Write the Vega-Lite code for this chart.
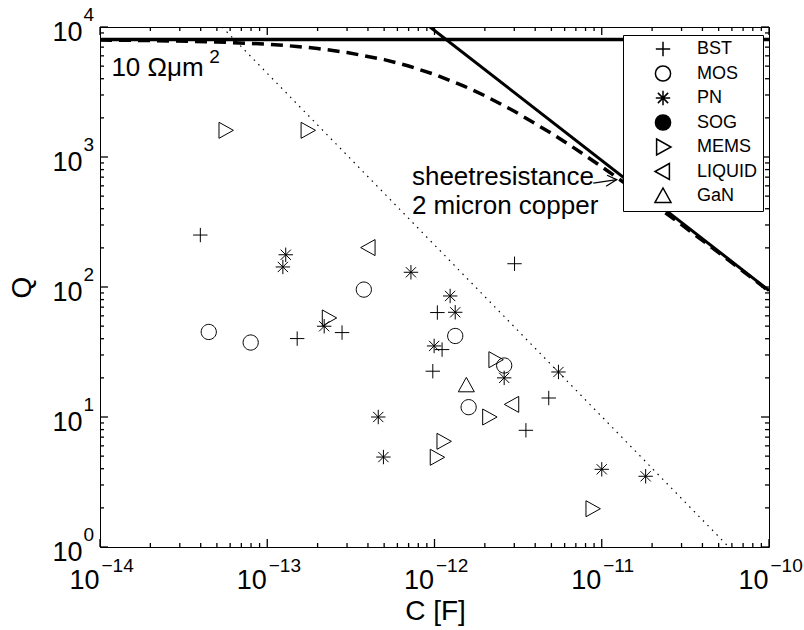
{
  "$schema": "https://vega.github.io/schema/vega-lite/v6.json",
  "width": 669,
  "height": 520,
  "autosize": {"type": "none"},
  "padding": {"left": 100, "top": 27, "right": 35, "bottom": 83},
  "background": "white",
  "config": {
    "font": "Liberation Sans",
    "view": {"stroke": "black", "strokeWidth": 1},
    "axis": {"labelColor": "black", "titleColor": "black", "grid": false, "domain": false, "ticks": false, "labelFont": "Liberation Sans", "titleFont": "Liberation Sans", "titleFontWeight": "normal", "labelFlush": false, "labelOverlap": false, "labelBound": false},
    "legend": {"orient": "none", "legendX": 523, "legendY": 8, "strokeColor": "black", "fillColor": "white", "padding": 5, "symbolOffset": 26, "labelOffset": 25, "symbolSize": 256, "labelFontSize": 18, "labelFont": "Liberation Sans", "labelColor": "black", "rowPadding": 2.5, "cornerRadius": 0}
  },
  "datasets": {
    "hline": [{"C": 1e-14, "Q": 8000}, {"C": 1e-10, "Q": 8000}],
    "diag": [{"C": 9.4e-13, "Q": 10000}, {"C": 1e-10, "Q": 94}],
    "dashed": [
      {"C": 1e-14, "Q": 7932}, {"C": 2e-14, "Q": 7866}, {"C": 5e-14, "Q": 7673}, {"C": 1e-13, "Q": 7373},
      {"C": 1.5e-13, "Q": 7094}, {"C": 2e-13, "Q": 6836}, {"C": 3e-13, "Q": 6373}, {"C": 5e-13, "Q": 5612},
      {"C": 7e-13, "Q": 5013}, {"C": 1e-12, "Q": 4322}, {"C": 1.5e-12, "Q": 3514}, {"C": 2e-12, "Q": 2961},
      {"C": 3e-12, "Q": 2251}, {"C": 5e-12, "Q": 1522}, {"C": 7e-12, "Q": 1150}, {"C": 1e-11, "Q": 841},
      {"C": 1.5e-11, "Q": 581}, {"C": 2e-11, "Q": 444}, {"C": 3e-11, "Q": 301.5}, {"C": 5e-11, "Q": 183.7},
      {"C": 7e-11, "Q": 132.1}, {"C": 1e-10, "Q": 92.9}
    ],
    "dotted": [{"C": 5.37e-14, "Q": 10000}, {"C": 5.75e-11, "Q": 1}],
    "arrow": [
      {"seg": "shaft", "i": 1, "C": 8.9e-12, "Q": 630},
      {"seg": "shaft", "i": 2, "C": 1.23e-11, "Q": 670},
      {"seg": "head", "i": 1, "C": 1.076e-11, "Q": 723},
      {"seg": "head", "i": 2, "C": 1.23e-11, "Q": 670},
      {"seg": "head", "i": 3, "C": 1.062e-11, "Q": 595}
    ],
    "annot": [
      {"C": 1.17e-14, "Q": 4178, "label": "10 Ωμm"},
      {"C": 7.33e-13, "Q": 606, "label": "sheetresistance"},
      {"C": 7.33e-13, "Q": 362, "label": "2 micron copper"}
    ],
    "sup": [{"C": 4.5e-14, "Q": 5300, "label": "2"}],
    "xticks": [
      {"C": 1e-14, "Q": 1, "Q2": 1.152}, {"C": 1e-13, "Q": 1, "Q2": 1.152}, {"C": 1e-12, "Q": 1, "Q2": 1.152}, {"C": 1e-11, "Q": 1, "Q2": 1.152}, {"C": 1e-10, "Q": 1, "Q2": 1.152},
      {"C": 1e-14, "Q": 10000, "Q2": 8681}, {"C": 1e-13, "Q": 10000, "Q2": 8681}, {"C": 1e-12, "Q": 10000, "Q2": 8681}, {"C": 1e-11, "Q": 10000, "Q2": 8681}, {"C": 1e-10, "Q": 10000, "Q2": 8681},
      {"C": 2e-14, "Q": 1, "Q2": 1.073}, {"C": 3e-14, "Q": 1, "Q2": 1.073}, {"C": 4e-14, "Q": 1, "Q2": 1.073}, {"C": 5e-14, "Q": 1, "Q2": 1.073}, {"C": 6e-14, "Q": 1, "Q2": 1.073}, {"C": 7e-14, "Q": 1, "Q2": 1.073}, {"C": 8e-14, "Q": 1, "Q2": 1.073}, {"C": 9e-14, "Q": 1, "Q2": 1.073},
      {"C": 2e-13, "Q": 1, "Q2": 1.073}, {"C": 3e-13, "Q": 1, "Q2": 1.073}, {"C": 4e-13, "Q": 1, "Q2": 1.073}, {"C": 5e-13, "Q": 1, "Q2": 1.073}, {"C": 6e-13, "Q": 1, "Q2": 1.073}, {"C": 7e-13, "Q": 1, "Q2": 1.073}, {"C": 8e-13, "Q": 1, "Q2": 1.073}, {"C": 9e-13, "Q": 1, "Q2": 1.073},
      {"C": 2e-12, "Q": 1, "Q2": 1.073}, {"C": 3e-12, "Q": 1, "Q2": 1.073}, {"C": 4e-12, "Q": 1, "Q2": 1.073}, {"C": 5e-12, "Q": 1, "Q2": 1.073}, {"C": 6e-12, "Q": 1, "Q2": 1.073}, {"C": 7e-12, "Q": 1, "Q2": 1.073}, {"C": 8e-12, "Q": 1, "Q2": 1.073}, {"C": 9e-12, "Q": 1, "Q2": 1.073},
      {"C": 2e-11, "Q": 1, "Q2": 1.073}, {"C": 3e-11, "Q": 1, "Q2": 1.073}, {"C": 4e-11, "Q": 1, "Q2": 1.073}, {"C": 5e-11, "Q": 1, "Q2": 1.073}, {"C": 6e-11, "Q": 1, "Q2": 1.073}, {"C": 7e-11, "Q": 1, "Q2": 1.073}, {"C": 8e-11, "Q": 1, "Q2": 1.073}, {"C": 9e-11, "Q": 1, "Q2": 1.073},
      {"C": 2e-14, "Q": 10000, "Q2": 9316}, {"C": 3e-14, "Q": 10000, "Q2": 9316}, {"C": 4e-14, "Q": 10000, "Q2": 9316}, {"C": 5e-14, "Q": 10000, "Q2": 9316}, {"C": 6e-14, "Q": 10000, "Q2": 9316}, {"C": 7e-14, "Q": 10000, "Q2": 9316}, {"C": 8e-14, "Q": 10000, "Q2": 9316}, {"C": 9e-14, "Q": 10000, "Q2": 9316},
      {"C": 2e-13, "Q": 10000, "Q2": 9316}, {"C": 3e-13, "Q": 10000, "Q2": 9316}, {"C": 4e-13, "Q": 10000, "Q2": 9316}, {"C": 5e-13, "Q": 10000, "Q2": 9316}, {"C": 6e-13, "Q": 10000, "Q2": 9316}, {"C": 7e-13, "Q": 10000, "Q2": 9316}, {"C": 8e-13, "Q": 10000, "Q2": 9316}, {"C": 9e-13, "Q": 10000, "Q2": 9316},
      {"C": 2e-12, "Q": 10000, "Q2": 9316}, {"C": 3e-12, "Q": 10000, "Q2": 9316}, {"C": 4e-12, "Q": 10000, "Q2": 9316}, {"C": 5e-12, "Q": 10000, "Q2": 9316}, {"C": 6e-12, "Q": 10000, "Q2": 9316}, {"C": 7e-12, "Q": 10000, "Q2": 9316}, {"C": 8e-12, "Q": 10000, "Q2": 9316}, {"C": 9e-12, "Q": 10000, "Q2": 9316},
      {"C": 2e-11, "Q": 10000, "Q2": 9316}, {"C": 3e-11, "Q": 10000, "Q2": 9316}, {"C": 4e-11, "Q": 10000, "Q2": 9316}, {"C": 5e-11, "Q": 10000, "Q2": 9316}, {"C": 6e-11, "Q": 10000, "Q2": 9316}, {"C": 7e-11, "Q": 10000, "Q2": 9316}, {"C": 8e-11, "Q": 10000, "Q2": 9316}, {"C": 9e-11, "Q": 10000, "Q2": 9316}
    ],
    "yticks": [
      {"Q": 1, "C": 1e-14, "C2": 1.116e-14}, {"Q": 10, "C": 1e-14, "C2": 1.116e-14}, {"Q": 100, "C": 1e-14, "C2": 1.116e-14}, {"Q": 1000, "C": 1e-14, "C2": 1.116e-14}, {"Q": 10000, "C": 1e-14, "C2": 1.116e-14},
      {"Q": 1, "C": 1e-10, "C2": 8.96e-11}, {"Q": 10, "C": 1e-10, "C2": 8.96e-11}, {"Q": 100, "C": 1e-10, "C2": 8.96e-11}, {"Q": 1000, "C": 1e-10, "C2": 8.96e-11}, {"Q": 10000, "C": 1e-10, "C2": 8.96e-11},
      {"Q": 2, "C": 1e-14, "C2": 1.057e-14}, {"Q": 3, "C": 1e-14, "C2": 1.057e-14}, {"Q": 4, "C": 1e-14, "C2": 1.057e-14}, {"Q": 5, "C": 1e-14, "C2": 1.057e-14}, {"Q": 6, "C": 1e-14, "C2": 1.057e-14}, {"Q": 7, "C": 1e-14, "C2": 1.057e-14}, {"Q": 8, "C": 1e-14, "C2": 1.057e-14}, {"Q": 9, "C": 1e-14, "C2": 1.057e-14},
      {"Q": 20, "C": 1e-14, "C2": 1.057e-14}, {"Q": 30, "C": 1e-14, "C2": 1.057e-14}, {"Q": 40, "C": 1e-14, "C2": 1.057e-14}, {"Q": 50, "C": 1e-14, "C2": 1.057e-14}, {"Q": 60, "C": 1e-14, "C2": 1.057e-14}, {"Q": 70, "C": 1e-14, "C2": 1.057e-14}, {"Q": 80, "C": 1e-14, "C2": 1.057e-14}, {"Q": 90, "C": 1e-14, "C2": 1.057e-14},
      {"Q": 200, "C": 1e-14, "C2": 1.057e-14}, {"Q": 300, "C": 1e-14, "C2": 1.057e-14}, {"Q": 400, "C": 1e-14, "C2": 1.057e-14}, {"Q": 500, "C": 1e-14, "C2": 1.057e-14}, {"Q": 600, "C": 1e-14, "C2": 1.057e-14}, {"Q": 700, "C": 1e-14, "C2": 1.057e-14}, {"Q": 800, "C": 1e-14, "C2": 1.057e-14}, {"Q": 900, "C": 1e-14, "C2": 1.057e-14},
      {"Q": 2000, "C": 1e-14, "C2": 1.057e-14}, {"Q": 3000, "C": 1e-14, "C2": 1.057e-14}, {"Q": 4000, "C": 1e-14, "C2": 1.057e-14}, {"Q": 5000, "C": 1e-14, "C2": 1.057e-14}, {"Q": 6000, "C": 1e-14, "C2": 1.057e-14}, {"Q": 7000, "C": 1e-14, "C2": 1.057e-14}, {"Q": 8000, "C": 1e-14, "C2": 1.057e-14}, {"Q": 9000, "C": 1e-14, "C2": 1.057e-14},
      {"Q": 2, "C": 1e-10, "C2": 9.46e-11}, {"Q": 3, "C": 1e-10, "C2": 9.46e-11}, {"Q": 4, "C": 1e-10, "C2": 9.46e-11}, {"Q": 5, "C": 1e-10, "C2": 9.46e-11}, {"Q": 6, "C": 1e-10, "C2": 9.46e-11}, {"Q": 7, "C": 1e-10, "C2": 9.46e-11}, {"Q": 8, "C": 1e-10, "C2": 9.46e-11}, {"Q": 9, "C": 1e-10, "C2": 9.46e-11},
      {"Q": 20, "C": 1e-10, "C2": 9.46e-11}, {"Q": 30, "C": 1e-10, "C2": 9.46e-11}, {"Q": 40, "C": 1e-10, "C2": 9.46e-11}, {"Q": 50, "C": 1e-10, "C2": 9.46e-11}, {"Q": 60, "C": 1e-10, "C2": 9.46e-11}, {"Q": 70, "C": 1e-10, "C2": 9.46e-11}, {"Q": 80, "C": 1e-10, "C2": 9.46e-11}, {"Q": 90, "C": 1e-10, "C2": 9.46e-11},
      {"Q": 200, "C": 1e-10, "C2": 9.46e-11}, {"Q": 300, "C": 1e-10, "C2": 9.46e-11}, {"Q": 400, "C": 1e-10, "C2": 9.46e-11}, {"Q": 500, "C": 1e-10, "C2": 9.46e-11}, {"Q": 600, "C": 1e-10, "C2": 9.46e-11}, {"Q": 700, "C": 1e-10, "C2": 9.46e-11}, {"Q": 800, "C": 1e-10, "C2": 9.46e-11}, {"Q": 900, "C": 1e-10, "C2": 9.46e-11},
      {"Q": 2000, "C": 1e-10, "C2": 9.46e-11}, {"Q": 3000, "C": 1e-10, "C2": 9.46e-11}, {"Q": 4000, "C": 1e-10, "C2": 9.46e-11}, {"Q": 5000, "C": 1e-10, "C2": 9.46e-11}, {"Q": 6000, "C": 1e-10, "C2": 9.46e-11}, {"Q": 7000, "C": 1e-10, "C2": 9.46e-11}, {"Q": 8000, "C": 1e-10, "C2": 9.46e-11}, {"Q": 9000, "C": 1e-10, "C2": 9.46e-11}
    ],
    "pts": [
      {"type": "BST", "C": 3.98e-14, "Q": 251}, {"type": "BST", "C": 1.51e-13, "Q": 40.1}, {"type": "BST", "C": 2.8e-13, "Q": 44.6},
      {"type": "BST", "C": 1.04e-12, "Q": 63.6}, {"type": "BST", "C": 9.77e-13, "Q": 22.5}, {"type": "BST", "C": 1.11e-12, "Q": 33.0},
      {"type": "BST", "C": 3.01e-12, "Q": 151}, {"type": "BST", "C": 4.82e-12, "Q": 14.0}, {"type": "BST", "C": 3.52e-12, "Q": 7.9},
      {"type": "MOS", "C": 4.47e-14, "Q": 45.1}, {"type": "MOS", "C": 7.96e-14, "Q": 37.4}, {"type": "MOS", "C": 3.78e-13, "Q": 95.5},
      {"type": "MOS", "C": 1.33e-12, "Q": 42.0}, {"type": "MOS", "C": 2.61e-12, "Q": 24.9}, {"type": "MOS", "C": 1.6e-12, "Q": 11.9},
      {"type": "PN", "C": 1.29e-13, "Q": 177}, {"type": "PN", "C": 1.24e-13, "Q": 142.6}, {"type": "PN", "C": 2.19e-13, "Q": 49.9},
      {"type": "PN", "C": 7.23e-13, "Q": 129.8}, {"type": "PN", "C": 1.24e-12, "Q": 85.3}, {"type": "PN", "C": 1.33e-12, "Q": 63.9},
      {"type": "PN", "C": 9.95e-13, "Q": 35.2}, {"type": "PN", "C": 2.61e-12, "Q": 20.0}, {"type": "PN", "C": 5.51e-12, "Q": 22.2},
      {"type": "PN", "C": 4.61e-13, "Q": 10.0}, {"type": "PN", "C": 4.95e-13, "Q": 4.92}, {"type": "PN", "C": 1.0e-11, "Q": 3.96},
      {"type": "PN", "C": 1.83e-11, "Q": 3.5},
      {"type": "MEMS", "C": 2.33e-13, "Q": 57.8}, {"type": "MEMS", "C": 2.31e-12, "Q": 27.6}, {"type": "MEMS", "C": 2.12e-12, "Q": 10.0},
      {"type": "MEMS", "C": 1.13e-12, "Q": 6.5}, {"type": "MEMS", "C": 1.03e-12, "Q": 4.9}, {"type": "MEMS", "C": 8.79e-12, "Q": 1.97},
      {"type": "MEMS", "C": 5.62e-14, "Q": 1604}, {"type": "MEMS", "C": 1.74e-13, "Q": 1604},
      {"type": "LIQUID", "C": 4.04e-13, "Q": 201}, {"type": "LIQUID", "C": 2.92e-12, "Q": 12.5},
      {"type": "GaN", "C": 1.55e-12, "Q": 17.5}
    ]
  },
  "resolve": {"axis": {"x": "independent", "y": "independent"}},
  "layer": [
    {
      "data": {"name": "hline"},
      "mark": {"type": "line", "color": "black", "strokeWidth": 3.5, "clip": true},
      "encoding": {
        "x": {"field": "C", "type": "quantitative", "scale": {"type": "log", "domain": [1e-14, 1e-10], "nice": false},
          "axis": {"orient": "bottom", "values": [1e-14, 1e-13, 1e-12, 1e-11, 1e-10], "labelExpr": "'10'", "labelFontSize": 27, "labelPadding": 41, "labelBaseline": "alphabetic", "labelAlign": "right", "labelOffset": -1,
            "title": "C [F]", "titleFontSize": 28, "titleX": 335, "titleY": 72, "titleBaseline": "alphabetic", "titleAlign": "center"}},
        "y": {"field": "Q", "type": "quantitative", "scale": {"type": "log", "domain": [1, 10000], "nice": false},
          "axis": {"orient": "left", "values": [1, 10, 100, 1000, 10000], "labelExpr": "'10'", "labelFontSize": 27, "labelPadding": 18, "labelAlign": "right", "labelBaseline": "alphabetic", "labelOffset": 13,
            "title": "Q", "titleFontSize": 28, "titleX": -78, "titleY": 260, "titleAngle": 270, "titleBaseline": "middle", "titleAlign": "center"}}
      }
    },
    {
      "data": {"name": "diag"},
      "mark": {"type": "line", "color": "black", "strokeWidth": 3, "clip": true},
      "encoding": {
        "x": {"field": "C", "type": "quantitative", "scale": {"type": "log", "domain": [1e-14, 1e-10], "nice": false},
          "axis": {"orient": "bottom", "values": [1e-14, 1e-13, 1e-12, 1e-11, 1e-10], "labelExpr": "replace(toString(round(log(datum.value)/LN10)), '-', '\u2212')", "labelFontSize": 19, "labelPadding": 24, "labelBaseline": "alphabetic", "labelAlign": "left", "labelOffset": 1, "title": null}},
        "y": {"field": "Q", "type": "quantitative", "scale": {"type": "log", "domain": [1, 10000], "nice": false},
          "axis": {"orient": "left", "values": [1, 10, 100, 1000, 10000], "labelExpr": "toString(round(log(datum.value)/LN10))", "labelFontSize": 19, "labelPadding": 17, "labelAlign": "left", "labelBaseline": "alphabetic", "labelOffset": -7, "title": null}}
      }
    },
    {
      "data": {"name": "dashed"},
      "mark": {"type": "line", "color": "black", "strokeWidth": 3.5, "strokeDash": [12, 7], "clip": true},
      "encoding": {
        "x": {"field": "C", "type": "quantitative", "scale": {"type": "log", "domain": [1e-14, 1e-10], "nice": false}, "axis": null},
        "y": {"field": "Q", "type": "quantitative", "scale": {"type": "log", "domain": [1, 10000], "nice": false}, "axis": null}
      }
    },
    {
      "data": {"name": "dotted"},
      "mark": {"type": "line", "color": "black", "strokeWidth": 1.2, "strokeDash": [1.5, 5], "clip": true},
      "encoding": {
        "x": {"field": "C", "type": "quantitative", "scale": {"type": "log", "domain": [1e-14, 1e-10], "nice": false}, "axis": null},
        "y": {"field": "Q", "type": "quantitative", "scale": {"type": "log", "domain": [1, 10000], "nice": false}, "axis": null}
      }
    },
    {
      "data": {"name": "xticks"},
      "mark": {"type": "rule", "color": "black", "strokeWidth": 1.3, "opacity": 1},
      "encoding": {
        "x": {"field": "C", "type": "quantitative", "scale": {"type": "log", "domain": [1e-14, 1e-10], "nice": false}, "axis": null},
        "y": {"field": "Q", "type": "quantitative", "scale": {"type": "log", "domain": [1, 10000], "nice": false}, "axis": null},
        "y2": {"field": "Q2"}
      }
    },
    {
      "data": {"name": "yticks"},
      "mark": {"type": "rule", "color": "black", "strokeWidth": 1.3, "opacity": 1},
      "encoding": {
        "x": {"field": "C", "type": "quantitative", "scale": {"type": "log", "domain": [1e-14, 1e-10], "nice": false}, "axis": null},
        "x2": {"field": "C2"},
        "y": {"field": "Q", "type": "quantitative", "scale": {"type": "log", "domain": [1, 10000], "nice": false}, "axis": null}
      }
    },
    {
      "data": {"name": "arrow"},
      "mark": {"type": "line", "color": "black", "strokeWidth": 1.2},
      "encoding": {
        "x": {"field": "C", "type": "quantitative", "scale": {"type": "log", "domain": [1e-14, 1e-10], "nice": false}, "axis": null},
        "y": {"field": "Q", "type": "quantitative", "scale": {"type": "log", "domain": [1, 10000], "nice": false}, "axis": null},
        "detail": {"field": "seg"},
        "order": {"field": "i", "type": "quantitative"}
      }
    },
    {
      "data": {"name": "annot"},
      "mark": {"type": "text", "align": "left", "baseline": "alphabetic", "fontSize": 26, "font": "Liberation Sans", "color": "black"},
      "encoding": {
        "x": {"field": "C", "type": "quantitative", "scale": {"type": "log", "domain": [1e-14, 1e-10], "nice": false}, "axis": null},
        "y": {"field": "Q", "type": "quantitative", "scale": {"type": "log", "domain": [1, 10000], "nice": false}, "axis": null},
        "text": {"field": "label"}
      }
    },
    {
      "data": {"name": "sup"},
      "mark": {"type": "text", "align": "left", "baseline": "alphabetic", "fontSize": 19, "font": "Liberation Sans", "color": "black"},
      "encoding": {
        "x": {"field": "C", "type": "quantitative", "scale": {"type": "log", "domain": [1e-14, 1e-10], "nice": false}, "axis": null},
        "y": {"field": "Q", "type": "quantitative", "scale": {"type": "log", "domain": [1, 10000], "nice": false}, "axis": null},
        "text": {"field": "label"}
      }
    },
    {
      "data": {"name": "pts"},
      "mark": {"type": "point", "filled": false, "color": "black", "strokeWidth": 1, "size": 256, "opacity": 1},
      "encoding": {
        "x": {"field": "C", "type": "quantitative", "scale": {"type": "log", "domain": [1e-14, 1e-10], "nice": false}, "axis": null},
        "y": {"field": "Q", "type": "quantitative", "scale": {"type": "log", "domain": [1, 10000], "nice": false}, "axis": null},
        "shape": {"field": "type", "type": "nominal", "title": null,
          "legend": {"encode": {"symbols": {"stroke": {"value": "black"}, "strokeWidth": {"value": 1}}}},
          "scale": {"domain": ["BST", "MOS", "PN", "SOG", "MEMS", "LIQUID", "GaN"],
            "range": ["M-0.9,0L0.9,0M0,-0.9L0,0.9", "M0.95,0A0.95,0.95,0,1,1,-0.95,0A0.95,0.95,0,1,1,0.95,0Z", "M-0.9,0L0.9,0M0,-0.9L0,0.9M-0.64,-0.64L0.64,0.64M-0.64,0.64L0.64,-0.64", "M0.95,0A0.95,0.95,0,1,1,-0.95,0A0.95,0.95,0,1,1,0.95,0Z", "M-0.8,-1L1,0L-0.8,1Z", "M0.8,-1L-1,0L0.8,1Z", "M-1,0.8L0,-1L1,0.8Z"]}},
        "fill": {"field": "type", "type": "nominal", "title": null,
          "legend": {"encode": {"symbols": {"stroke": {"value": "black"}, "strokeWidth": {"value": 1}}}},
          "scale": {"domain": ["BST", "MOS", "PN", "SOG", "MEMS", "LIQUID", "GaN"],
            "range": ["transparent", "transparent", "transparent", "black", "transparent", "transparent", "transparent"]}}
      }
    }
  ]
}
